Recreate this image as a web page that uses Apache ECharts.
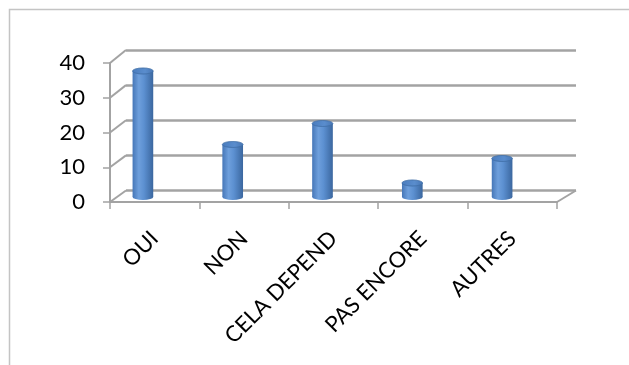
<!DOCTYPE html>
<html>
<head>
<meta charset="utf-8">
<script src="https://cdn.jsdelivr.net/npm/echarts@6/dist/echarts.min.js"></script>
<style>
  html, body { margin: 0; padding: 0; background: #fff; }
  #chart { width: 629px; height: 365px; }
</style>
</head>
<body>
<div id="chart"></div>
<script>
// Survey answers
const categories = ['OUI', 'NON', 'CELA DEPEND', 'PAS ENCORE', 'AUTRES'];
const values = [36, 15, 21, 4, 11];
const yTicks = [0, 10, 20, 30, 40];

const FONT = 'Lato';
const GRID_COLOR = '#a3a3a3';

const chart = echarts.init(document.getElementById('chart'), null, { renderer: 'canvas' });

// Cylinder shape drawn on the middle grid
function renderCylinder(params, api) {
  const i = api.value(0);
  const v = api.value(1);
  const top = api.coord([i, v]);
  const base = api.coord([i, 0]);
  const w = api.size([1, 0])[0] * 0.23;
  const rx = w / 2;
  const ry = 3;
  const bodyFill = new echarts.graphic.LinearGradient(0, 0, 1, 0, [
    { offset: 0, color: '#4677b8' },
    { offset: 0.3, color: '#6e9fdc' },
    { offset: 0.55, color: '#5c90d1' },
    { offset: 1, color: '#3b679f' }
  ]);
  const capFill = new echarts.graphic.LinearGradient(0, 0, 1, 0, [
    { offset: 0, color: '#4a7cbe' },
    { offset: 0.6, color: '#5a8dcd' },
    { offset: 1, color: '#4776b4' }
  ]);
  return {
    type: 'group',
    children: [
      {
        type: 'circle',
        x: base[0], y: base[1], scaleY: ry / rx,
        shape: { cx: 0, cy: 0, r: rx },
        style: { fill: bodyFill }
      },
      {
        type: 'rect',
        shape: { x: base[0] - rx, y: top[1], width: w, height: base[1] - top[1] },
        style: { fill: bodyFill }
      },
      {
        type: 'circle',
        x: top[0], y: top[1], scaleY: ry / rx,
        shape: { cx: 0, cy: 0, r: rx },
        style: { fill: capFill, stroke: '#416ea8', lineWidth: 0.8 }
      }
    ]
  };
}

const option = {
  animation: false,
  backgroundColor: '#ffffff',
  grid: [
    // front plane: axes and labels
    { left: 110, right: 72, top: 63, bottom: 163 },
    // back wall: gridlines
    { left: 126, right: 53, top: 50, bottom: 174.5 },
    // cylinders, mid depth
    { left: 98, right: 82, top: 57, bottom: 168 }
  ],
  xAxis: [
    {
      gridIndex: 0, type: 'category', data: categories, boundaryGap: true,
      axisLine: { show: true, lineStyle: { color: GRID_COLOR, width: 2 } },
      axisTick: { show: true, length: 7, lineStyle: { color: GRID_COLOR, width: 1.5 } },
      axisLabel: {
        rotate: 45, margin: 33, color: '#000', fontFamily: FONT, fontSize: 22,
        interval: 0
      },
      splitLine: { show: false }
    },
    {
      gridIndex: 1, type: 'category', data: categories, boundaryGap: true,
      axisLine: { show: false }, axisTick: { show: false }, axisLabel: { show: false }
    },
    {
      gridIndex: 2, type: 'category', data: categories, boundaryGap: true,
      axisLine: { show: false }, axisTick: { show: false }, axisLabel: { show: false }
    }
  ],
  yAxis: [
    {
      gridIndex: 0, type: 'value', min: yTicks[0], max: yTicks[yTicks.length - 1], interval: 10,
      axisLine: { show: true, lineStyle: { color: GRID_COLOR, width: 2 } },
      axisTick: { show: true, length: 7, lineStyle: { color: GRID_COLOR, width: 1.5 } },
      axisLabel: { margin: 25, color: '#000', fontFamily: FONT, fontSize: 22 },
      splitLine: { show: false }
    },
    {
      gridIndex: 1, type: 'value', min: yTicks[0], max: yTicks[yTicks.length - 1], interval: 10,
      axisLine: { show: false }, axisTick: { show: false }, axisLabel: { show: false },
      splitLine: { show: true, lineStyle: { color: GRID_COLOR, width: 2.5 } }
    },
    {
      gridIndex: 2, type: 'value', min: yTicks[0], max: yTicks[yTicks.length - 1],
      axisLine: { show: false }, axisTick: { show: false }, axisLabel: { show: false },
      splitLine: { show: false }
    }
  ],
  series: [
    {
      type: 'custom',
      xAxisIndex: 2, yAxisIndex: 2,
      data: values.map((v, i) => [i, v]),
      renderItem: renderCylinder,
      z: 5
    }
  ]
};

chart.setOption(option);

// Depth edges joining the front plane to the back wall
const fr = chart.getModel().getComponent('grid', 0).coordinateSystem.getRect();
const br = chart.getModel().getComponent('grid', 1).coordinateSystem.getRect();
const edges = yTicks.map(t => {
  const f = chart.convertToPixel({ gridIndex: 0 }, [0, t]);
  const b = chart.convertToPixel({ gridIndex: 1 }, [0, t]);
  return { x1: fr.x, y1: f[1], x2: br.x, y2: b[1] };
});
edges.push({ x1: fr.x + fr.width, y1: fr.y + fr.height, x2: br.x + br.width, y2: br.y + br.height });

chart.setOption({
  graphic: [
    {
      type: 'rect', silent: true, z: -10,
      shape: { x: 9.5, y: 9.5, width: 700, height: 700 },
      style: { fill: 'none', stroke: '#c4c4c4', lineWidth: 1.5 }
    }
  ].concat(edges.map(e => ({
    type: 'line', silent: true, z: 1,
    shape: e,
    style: { stroke: GRID_COLOR, lineWidth: 2 }
  })))
});
</script>
</body>
</html>
